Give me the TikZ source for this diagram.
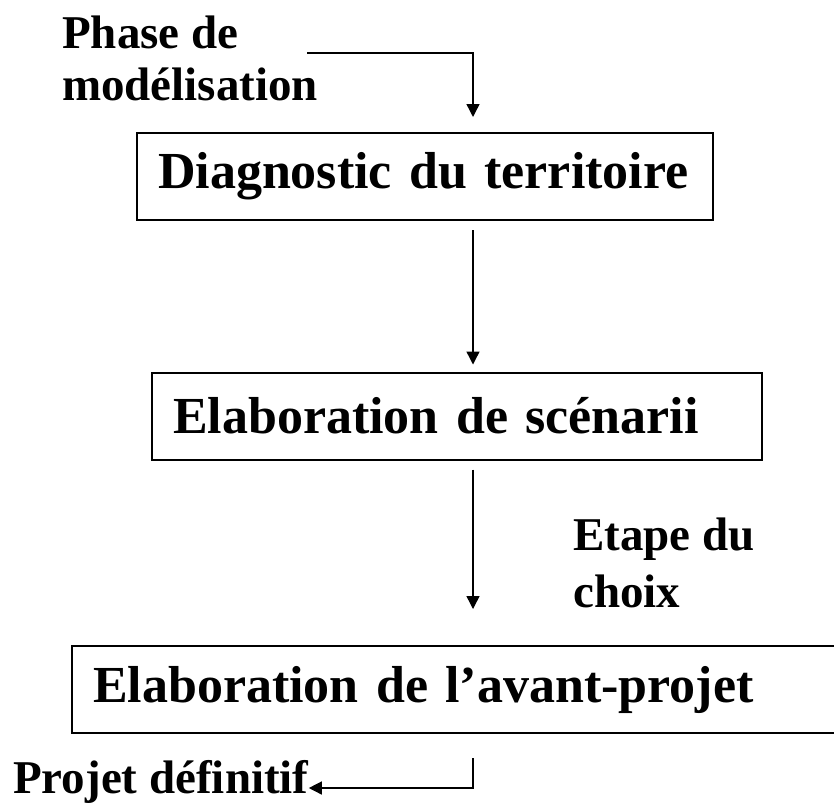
\documentclass[tikz,border=0pt]{standalone}
\usepackage{fontspec}
\setmainfont{Liberation Serif}
\usetikzlibrary{positioning,arrows.meta}

\begin{document}
\begin{tikzpicture}[x=1pt,y=-1pt,node distance=240pt,on grid,
  stage/.style={draw,line width=2pt,minimum height=87pt,inner xsep=21pt,inner ysep=0pt,
    align=left,font=\fontsize{52}{60}\selectfont\bfseries},
  note/.style={inner sep=0pt,align=left,anchor=base west,
    font=\fontsize{47}{52}\selectfont\bfseries},
  flow/.style={line width=1.4pt,-{Triangle[length=13pt,width=13pt]}}]
  \useasboundingbox (0,0) rectangle (834,804);
  \coordinate (spine) at (473,0);
  \path
  node[stage,text width=534pt] (diag) at (425,176.5) {Diagnostic du territoire}
  node[stage,text width=568pt,below right=239.5pt and 32pt of diag] (scen) {Elaboration de scénarii}
  node[stage,text width=728pt,below=273.5pt of scen] (avant) {Elaboration de l’avant-projet}
  node[note] (phase) at (62,100) {Phase de\\modélisation}
  node[note] (etape) at (573,607) {Etape du\\[5pt]choix}
  node[note] (projet) at (13,793) {Projet définitif}
  ;
  % fleches
  \draw[flow,shorten >=15pt] ([xshift=-11pt,yshift=47pt]phase.base east) -| (diag.north -| spine);
  \draw[flow,shorten <=9pt,shorten >=7pt] (diag.south -| spine) -- (scen.north -| spine);
  \draw[flow,shorten <=9pt,shorten >=36pt] (scen.south -| spine) -- (avant.north -| spine);
  \draw[flow,shorten <=24pt] (avant.south -| spine) |- ([yshift=5pt]projet.base east);
\end{tikzpicture}
\end{document}
